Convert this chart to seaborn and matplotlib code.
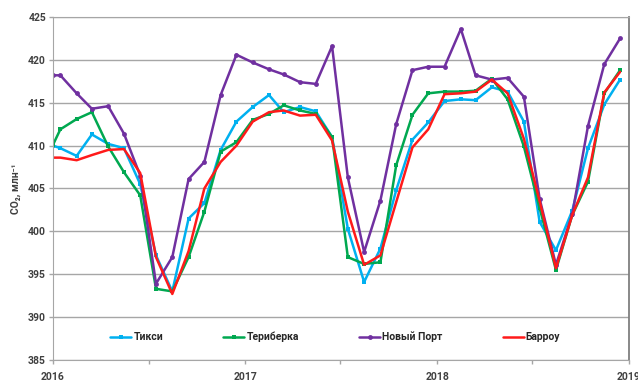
import matplotlib
matplotlib.use("Agg")
from matplotlib import pyplot as plt
import matplotlib.dates as mdates
import numpy as np
import pandas as pd
import seaborn as sns

# first sample on 1 Jan 2016, then monthly means plotted mid-month
dates = pd.to_datetime(["2016-01-01"]).append(
    pd.date_range("2016-01-01", "2018-12-01", freq="MS") + pd.Timedelta(days=14))

tiksi = [410.0, 409.7, 408.8, 411.3, 410.2, 409.7, 405.5, 397.2, 393.0, 401.5,
         403.3, 409.5, 412.8, 414.5, 415.9, 413.9, 414.5, 414.0, 411.0, 400.3,
         394.1, 398.0, 404.8, 410.7, 412.7, 415.2, 415.4, 415.3, 416.8, 416.3,
         412.8, 401.1, 397.8, 402.4, 409.7, 414.8, 417.7]
teriberka = [410.1, 411.9, 413.1, 413.9, 409.9, 406.9, 404.2, 393.3, 393.0, 397.0,
             402.3, 409.3, 410.4, 413.0, 413.7, 414.7, 414.1, 413.7, 411.0, 397.0,
             396.2, 396.4, 407.7, 413.6, 416.1, 416.3, 416.3, 416.4, 417.8, 415.4,
             409.9, 402.7, 395.5, 401.9, 405.8, 416.1, 418.8]
novy_port = [418.2, 418.2, 416.1, 414.3, 414.6, 411.4, 406.5, 393.9, 397.0, 406.1,
             408.1, 415.9, 420.6, 419.7, 418.9, 418.3, 417.4, 417.2, 421.6, 406.3,
             397.6, 403.6, 412.5, 418.8, 419.2, 419.2, 423.6, 418.2, 417.7, 417.9,
             415.7, 403.8, 396.1, 402.0, 412.3, 419.5, 422.5]
barrow = [408.6, 408.6, 408.3, 408.9, 409.5, 409.6, 406.8, 397.0, 392.7, 397.7,
          405.0, 408.1, 410.0, 412.8, 413.9, 414.1, 413.5, 413.6, 410.6, 402.3,
          396.1, 397.2, 403.4, 409.8, 411.9, 416.0, 416.1, 416.3, 417.7, 416.1,
          410.8, 403.5, 395.7, 401.9, 406.3, 416.2, 418.6]

names = ["Тикси", "Териберка", "Новый Порт", "Барроу"]
colors = ["#00b0f0", "#00a850", "#7030a0", "#ff1a1a"]
markers = ["s", "s", "o", None]
series = [tiksi, teriberka, novy_port, barrow]

sns.set_style("white")
plt.rcParams["font.family"] = ["Roboto", "DejaVu Sans"]

fig = plt.figure(figsize=(6.38, 3.81), dpi=100)
ax = fig.add_axes([53 / 638, 1 - 360 / 381, 576 / 638, 343 / 381])

for name, vals, c, m in zip(names, series, colors, markers):
    df = pd.DataFrame({"date": dates, "co2": vals})
    sns.lineplot(data=df, x="date", y="co2", ax=ax, color=c, lw=1.8,
                 marker=m, markersize=3.5, markeredgewidth=0, label=name)

ax.set_xlim(pd.Timestamp("2016-01-01"), pd.Timestamp("2019-01-01"))
ax.set_ylim(385, 425)
ax.set_yticks(np.arange(385, 426, 5))
ax.xaxis.set_major_locator(mdates.YearLocator())
ax.xaxis.set_major_formatter(mdates.DateFormatter("%Y"))
ax.xaxis.set_minor_locator(mdates.MonthLocator(bymonth=7))
ax.grid(axis="y", color="#a6a6a6", lw=1)
ax.set_axisbelow(True)

for lab in ax.get_xticklabels() + ax.get_yticklabels():
    lab.set_fontweight("bold")
    lab.set_fontsize(7.5)
    lab.set_color("#404040")
ax.tick_params(axis="both", which="both", direction="out", length=3,
               color="#a6a6a6", width=1, pad=2, bottom=True, left=True)
ax.tick_params(axis="x", pad=6)

for s in ["left", "bottom", "top"]:
    ax.spines[s].set_color("#a6a6a6")
ax.spines["right"].set_color("#7f7f7f")
ax.spines["right"].set_linewidth(1.3)

ax.set_xlabel("")
ax.set_ylabel("CO₂, млн⁻¹", fontsize=7.5, fontweight="bold", color="#404040")
ax.yaxis.set_label_coords(-0.055, 0.5)

ax.legend(ncol=4, frameon=False, loc="center", bbox_to_anchor=(0.49, 0.067),
          columnspacing=5.8, handlelength=2.0, handletextpad=0.2,
          prop={"size": 7.5, "weight": "bold"})

fig.savefig("out.png", dpi=100)
